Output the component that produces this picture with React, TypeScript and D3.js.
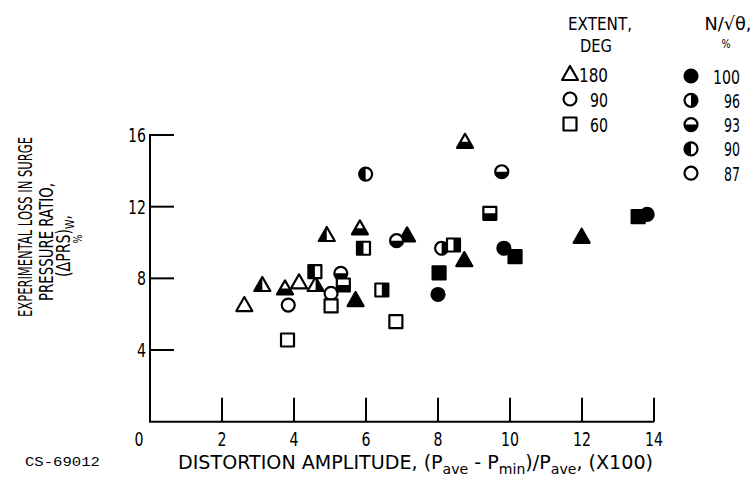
import React from "react";
import * as d3 from "d3";

// ---- data ----
// N/sqrt(theta) codes: 100 solid, 96 right-half black, 93 bottom-half black, 90 left-half black, 87 open
const triX = [2.62, 3.12, 3.75, 4.14, 4.6, 4.91, 5.71, 5.83, 7.14, 8.73, 8.75, 11.99];
const triY = [6.51, 7.63, 7.44, 7.78, 7.63, 10.42, 6.79, 10.79, 10.4, 9.02, 15.62, 10.32];
const triN = [87, 90, 93, 87, 96, 90, 100, 93, 100, 100, 93, 100];

const cirX = [3.84, 5.03, 5.3, 5.99, 6.85, 8.1, 8.0, 9.77, 9.83, 13.81];
const cirY = [6.51, 7.16, 8.28, 13.82, 10.1, 9.68, 7.1, 13.95, 9.68, 11.57];
const cirN = [87, 87, 93, 90, 93, 96, 100, 93, 100, 100];

const sqX = [3.82, 4.58, 5.03, 5.37, 5.93, 6.44, 6.83, 8.03, 8.43, 9.44, 10.14, 13.56];
const sqY = [4.56, 8.37, 6.46, 7.63, 9.68, 7.35, 5.58, 8.3, 9.86, 11.63, 9.21, 11.44];
const sqN = [87, 90, 87, 93, 90, 96, 87, 100, 96, 93, 100, 100];

const xTicks = [2, 4, 6, 8, 10, 12, 14];
const yTicks = [4, 8, 12, 16];
const extentLabels = ["180", "90", "60"];
const extentShapes = ["tri", "cir", "sq"];
const speedLabels = ["100", "96", "93", "90", "87"];
const speedCodes = [100, 96, 93, 90, 87];

const FONT = "'DejaVu Sans', sans-serif";

const x = d3.scaleLinear().domain([0, 14]).range([150, 654]);
const y = d3.scaleLinear().domain([0, 16]).range([421.7, 135]);

function shapePath(kind: string): string {
  if (kind === "tri") return "M0,-8L8,6L-8,6Z";
  if (kind === "sq") return "M-6.5,-6.5H6.5V6.5H-6.5Z";
  const p = d3.path();
  p.arc(0, 0, 6.5, 0, Math.PI * 2);
  p.closePath();
  return p.toString();
}

function clipFor(n: number): string | null {
  if (n === 96) return "url(#clipRight)";
  if (n === 93) return "url(#clipBottom)";
  if (n === 90) return "url(#clipLeft)";
  return null;
}

function Marker({ kind, n, cx, cy }: { kind: string; n: number; cx: number; cy: number }) {
  const d = shapePath(kind);
  const clip = clipFor(n);
  return (
    <g transform={`translate(${cx},${cy})`}>
      <path d={d} fill={n === 100 ? "#000" : "#fff"} stroke="#000" strokeWidth={2.2} strokeLinejoin="round" />
      {clip && <path d={d} fill="#000" clipPath={clip} />}
    </g>
  );
}

// text squeezed to a measured width (the original lettering is very condensed)
function T({ x: tx, y: ty, w, anchor = "middle", size = 19, rot = false, children }: any) {
  const start = anchor === "middle" ? -w / 2 : anchor === "end" ? -w : 0;
  return (
    <text
      transform={`translate(${tx},${ty})${rot ? " rotate(-90)" : ""}`}
      x={start}
      y={0}
      fontFamily={FONT}
      fontSize={size}
      textLength={w}
      lengthAdjust="spacingAndGlyphs"
      fill="#000"
    >
      {children}
    </text>
  );
}

export default function App() {
  const tri = triX.map((v, i) => ({ kind: "tri", x: v, y: triY[i], n: triN[i] }));
  const cir = cirX.map((v, i) => ({ kind: "cir", x: v, y: cirY[i], n: cirN[i] }));
  const sq = sqX.map((v, i) => ({ kind: "sq", x: v, y: sqY[i], n: sqN[i] }));
  const pts = [...tri, ...cir, ...sq];
  const digitW = (s: string) => s.length * 9;
  return (
    <svg width={755} height={483} style={{ position: "absolute", left: 0, top: 0, background: "#fff" }}>
      <defs>
        <clipPath id="clipLeft"><rect x={-20} y={-20} width={20} height={40} /></clipPath>
        <clipPath id="clipRight"><rect x={0} y={-20} width={20} height={40} /></clipPath>
        <clipPath id="clipBottom"><rect x={-20} y={0} width={40} height={20} /></clipPath>
      </defs>
      <rect x={0} y={0} width={755} height={483} fill="#fff" />
      {/* axes */}
      <line x1={x(0)} y1={y(16) - 1} x2={x(0)} y2={y(0)} stroke="#000" strokeWidth={2} />
      <line x1={x(0) - 1} y1={y(0)} x2={x(14)} y2={y(0)} stroke="#000" strokeWidth={2} />
      {yTicks.map((t) => (
        <line key={"yt" + t} x1={x(0)} x2={x(0) + 24} y1={y(t)} y2={y(t)} stroke="#000" strokeWidth={2} />
      ))}
      {xTicks.map((t) => (
        <line key={"xt" + t} x1={x(t)} x2={x(t)} y1={y(0)} y2={y(0) - 24} stroke="#000" strokeWidth={2} />
      ))}
      {/* tick labels */}
      {yTicks.map((t) => (
        <T key={"yl" + t} x={146} y={y(t) + 7} w={digitW(String(t))} anchor="end">{t}</T>
      ))}
      <T x={139} y={446} w={9}>0</T>
      {xTicks.map((t) => (
        <T key={"xl" + t} x={x(t)} y={446} w={digitW(String(t))}>{t}</T>
      ))}
      {/* x title */}
      <text x={178} y={469} fontFamily={FONT} fontSize={19} textLength={475} lengthAdjust="spacingAndGlyphs">
        DISTORTION AMPLITUDE, (P<tspan fontSize={14} dy={5}>ave</tspan>
        <tspan dy={-5}> - P</tspan><tspan fontSize={14} dy={5}>min</tspan>
        <tspan dy={-5}>)/P</tspan><tspan fontSize={14} dy={5}>ave</tspan>
        <tspan dy={-5}>, (X100)</tspan>
      </text>
      {/* y title */}
      <T x={32} y={227} w={180} rot size={20}>EXPERIMENTAL LOSS IN SURGE</T>
      <T x={53} y={242} w={118} rot size={20}>PRESSURE RATIO,</T>
      <text transform="translate(70,246) rotate(-90)" x={-31} y={0} fontFamily={FONT} fontSize={19} textLength={62} lengthAdjust="spacingAndGlyphs">
        (ΔPRS)<tspan fontSize={13} dy={4}>W</tspan><tspan dy={-4}>,</tspan>
      </text>
      <T x={82} y={239} w={9} rot size={13}>%</T>
      <text x={25} y={466} fontFamily="'Liberation Mono', 'DejaVu Sans Mono', monospace" fontSize={13} textLength={75} lengthAdjust="spacingAndGlyphs">CS-69012</text>
      {/* legend */}
      <T x={600} y={30} w={64} size={18}>EXTENT,</T>
      <T x={596} y={52} w={32} size={18}>DEG</T>
      <T x={728} y={30} w={47} size={18}>N/√θ,</T>
      <T x={726} y={48} w={9} size={13}>%</T>
      {extentLabels.map((l, i) => (
        <g key={"el" + i}>
          <Marker kind={extentShapes[i]} n={87} cx={570} cy={74 + i * 25} />
          <T x={608} y={74 + i * 25 + 7.5} w={l.length === 3 ? 29 : 18} anchor="end">{l}</T>
        </g>
      ))}
      {speedLabels.map((l, i) => (
        <g key={"sl" + i}>
          <Marker kind="cir" n={speedCodes[i]} cx={691} cy={76 + i * 24.3} />
          <T x={740} y={76 + i * 24.3 + 7.5} w={l.length === 3 ? 27 : 16} anchor="end">{l}</T>
        </g>
      ))}
      {/* data */}
      {pts.map((p, i) => (
        <Marker key={"p" + i} kind={p.kind} n={p.n} cx={x(p.x)} cy={y(p.y)} />
      ))}
    </svg>
  );
}
